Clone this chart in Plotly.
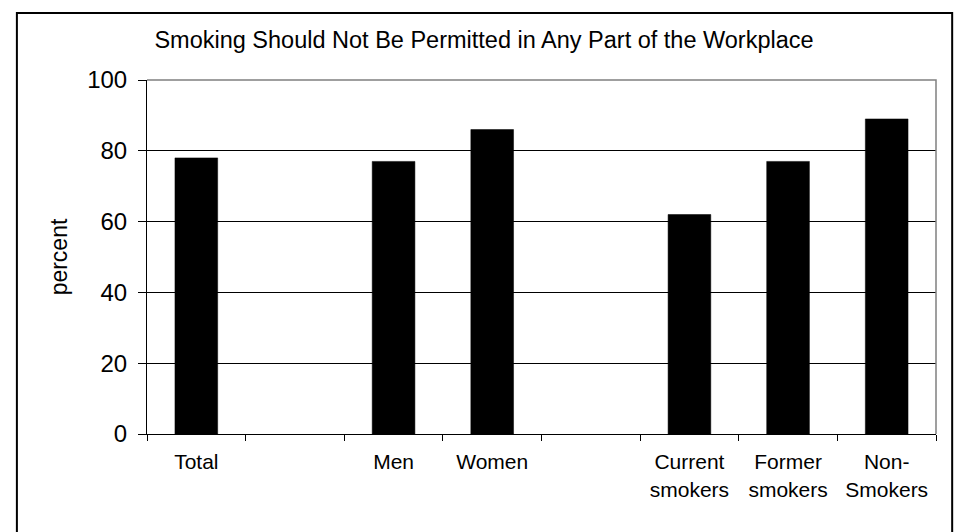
import plotly.graph_objects as go

# Survey groups (blank slots separate the groupings) and share agreeing, in percent
categories = ["Total", " ", "Men", "Women", "  ",
              "Current<br>smokers", "Former<br>smokers", "Non-<br>Smokers"]
values = [78, None, 77, 86, None, 62, 77, 89]
y_ticks = [0, 20, 40, 60, 80, 100]

title_text = "Smoking Should Not Be Permitted in Any Part of the Workplace"
y_title = "percent"

FONT = "Liberation Sans, Arial, sans-serif"

fig = go.Figure(
    go.Bar(
        x=categories,
        y=values,
        marker=dict(color="#000000", line=dict(color="#000000", width=0.5)),
        hoverinfo="x+y",
    )
)

fig.update_layout(
    width=955,
    height=532,
    margin=dict(l=146.5, r=18.5, t=80, b=97.5),
    paper_bgcolor="#ffffff",
    plot_bgcolor="#ffffff",
    bargap=0.567,
    showlegend=False,
    font=dict(family=FONT, color="#000000", size=21),
    title=dict(
        text=title_text,
        font=dict(family=FONT, size=23.5, color="#000000"),
        x=484 / 955,
        xref="container",
        xanchor="center",
        y=1 - 40 / 532,
        yref="container",
        yanchor="middle",
    ),
    xaxis=dict(
        type="category",
        tickson="boundaries",
        ticks="outside",
        ticklen=6,
        tickwidth=1,
        tickcolor="#000000",
        showline=True,
        linecolor="#000000",
        linewidth=1,
        showgrid=False,
        tickfont=dict(family=FONT, size=21, color="#000000"),
        ticklabelstandoff=9,
        fixedrange=True,
    ),
    yaxis=dict(
        range=[0, 100],
        tickvals=y_ticks,
        ticks="outside",
        ticklen=8,
        tickwidth=1,
        tickcolor="#000000",
        showline=True,
        linecolor="#000000",
        linewidth=1,
        showgrid=True,
        gridcolor="#000000",
        gridwidth=1,
        zeroline=False,
        tickfont=dict(family=FONT, size=24, color="#000000"),
        ticklabelstandoff=6,
        title=dict(text=y_title, font=dict(family=FONT, size=23, color="#000000"),
                   standoff=13),
        fixedrange=True,
    ),
    shapes=[
        # grey frame along the top and right of the plot area
        dict(type="path", xref="paper", yref="paper",
             path="M 0,1 L 1,1 L 1,0",
             line=dict(color="#808080", width=1.5), layer="above"),
        # outer chart border
        dict(type="rect", xref="paper", yref="paper",
             x0=-0.1649, x1=1.0205, y0=-0.30, y1=1.189,
             line=dict(color="#000000", width=2), fillcolor="rgba(0,0,0,0)",
             layer="above"),
    ],
)

fig.write_html("out.html")
